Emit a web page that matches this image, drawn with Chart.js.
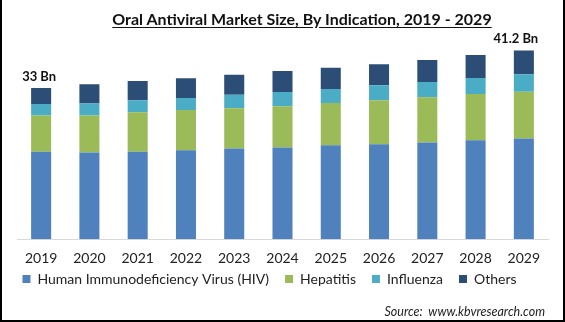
<!DOCTYPE html>
<html>
<head>
<meta charset="utf-8">
<script src="https://cdn.jsdelivr.net/npm/chart.js@4/dist/chart.umd.min.js"></script>
<style>
    html, body { margin: 0; padding: 0; background: #fff; }
    #wrap { position: relative; width: 565px; height: 322px; overflow: hidden; font-family: Lato, "Open Sans", sans-serif; }
    #chart { position: absolute; left: 0; top: 0; }
    #title { position: absolute; left: 8px; top: 9px; width: 588px; text-align: center; font-size: 16px; font-weight: bold; color: #111; text-decoration: underline; text-underline-offset: 2px; }
    #source { position: absolute; right: 20px; top: 304px; font-size: 12.5px; font-style: italic; color: #222; }
    #frame { position: absolute; left: 0; top: 0; width: 561px; height: 320px; border-left: 2px solid #000; border-right: 2px solid #000; border-bottom: 2px solid #000; pointer-events: none; }
</style>
</head>
<body>
<div id="wrap">
    <canvas id="chart" width="565" height="322"></canvas>
    <div id="title">Oral Antiviral Market Size, By Indication, 2019 - 2029</div>
    <div id="source">Source:&nbsp; www.kbvresearch.com</div>
    <div id="frame"></div>
</div>
<script>
var years = ["2019", "2020", "2021", "2022", "2023", "2024", "2025", "2026", "2027", "2028", "2029"];
var hiv = [19.1, 18.9, 19.1, 19.4, 19.8, 20.0, 20.5, 20.7, 21.1, 21.6, 22.0];
var hepatitis = [7.9, 8.1, 8.6, 8.8, 8.8, 9.0, 9.2, 9.6, 9.9, 10.1, 10.2];
var influenza = [2.5, 2.6, 2.6, 2.6, 2.9, 3.1, 3.1, 3.3, 3.3, 3.5, 3.8];
var others = [3.5, 4.2, 4.2, 4.3, 4.4, 4.6, 4.6, 4.6, 4.8, 5.0, 5.2];
// totals are only printed over the first and last year
var labelledYears = ["2019", "2029"];

var totalLabels = {
    id: "totalLabels",
    afterDatasetsDraw: function (chart) {
        var ctx = chart.ctx;
        var topMeta = chart.getDatasetMeta(chart.data.datasets.length - 1);
        ctx.save();
        ctx.font = "bold 13px Lato, sans-serif";
        ctx.fillStyle = "#111";
        ctx.textAlign = "center";
        ctx.textBaseline = "bottom";
        labelledYears.forEach(function (year) {
            var i = years.indexOf(year);
            var total = hiv[i] + hepatitis[i] + influenza[i] + others[i];
            var bar = topMeta.data[i];
            var shift = i === years.length - 1 ? -8 : -2;
            ctx.fillText((Math.round(total * 10) / 10) + " Bn", bar.x + shift, bar.y - 5);
        });
        ctx.restore();
    }
};

// pull the legend row up under the year labels and a little left of centre
var legendShift = {
    id: "legendShift",
    afterLayout: function (chart) {
        var lg = chart.legend;
        lg.left -= 13;
        lg.right -= 13;
        lg.top -= 22;
        lg.bottom -= 22;
    }
};

var chart = new Chart(document.getElementById("chart"), {
    type: "bar",
    data: {
        labels: years,
        datasets: [
            { label: "Human Immunodeficiency Virus (HIV)", data: hiv, backgroundColor: "#4f81bd" },
            { label: "Hepatitis", data: hepatitis, backgroundColor: "#9bbb59" },
            { label: "Influenza", data: influenza, backgroundColor: "#4bacc6" },
            { label: "Others", data: others, backgroundColor: "#2c4d75" }
        ]
    },
    options: {
        responsive: false,
        animation: false,
        layout: {
            padding: { left: 17, right: 17, top: 33, bottom: 4 }
        },
        datasets: {
            bar: { barPercentage: 0.415, categoryPercentage: 1 }
        },
        scales: {
            x: {
                stacked: true,
                grid: { display: false, drawTicks: false },
                border: { display: true, color: "#d9d9d9", width: 1 },
                ticks: { color: "#222", font: { family: "Lato", size: 14 }, padding: 11 }
            },
            y: {
                stacked: true,
                display: false,
                min: 0,
                max: 45
            }
        },
        plugins: {
            legend: {
                position: "bottom",
                labels: {
                    boxWidth: 8,
                    boxHeight: 8,
                    padding: 16,
                    color: "#222",
                    font: { family: "Lato", size: 14 }
                }
            },
            tooltip: { enabled: false }
        }
    },
    plugins: [totalLabels, legendShift]
});
</script>
</body>
</html>
